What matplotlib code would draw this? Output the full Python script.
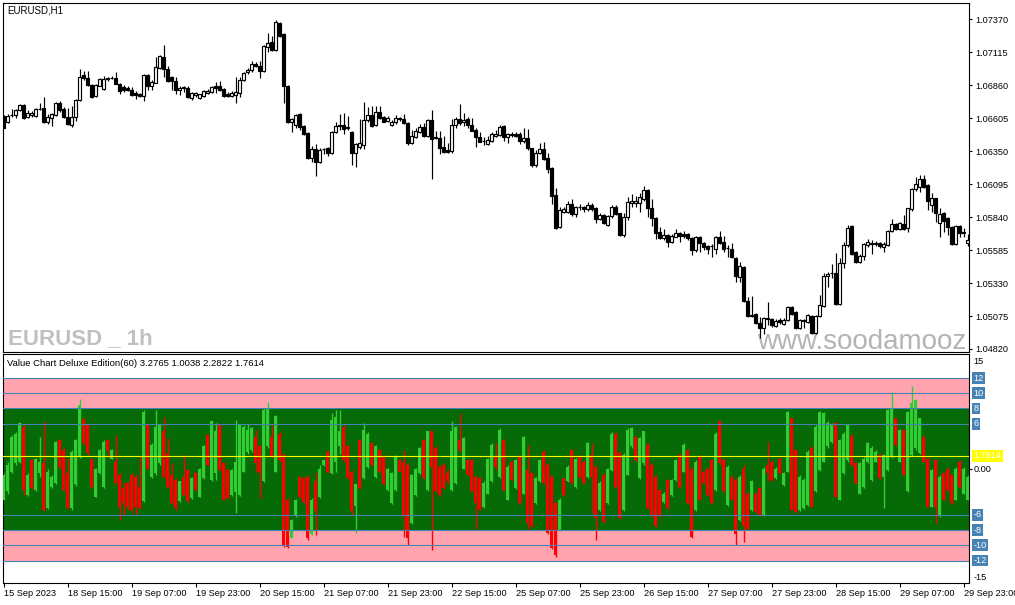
import matplotlib
matplotlib.use("Agg")
import matplotlib.pyplot as plt
from matplotlib.transforms import blended_transform_factory
import numpy as np

plt.rcParams['font.family'] = ['Liberation Sans', 'DejaVu Sans']

W, H = 1015, 605

# ---------------- data: EURUSD H1 candles ----------------
open_ = [
    1.06624, 1.06577, 1.06630, 1.06631, 1.06670, 1.06708, 1.06616, 1.06631, 1.06624, 1.06677,
    1.06685, 1.06577, 1.06608, 1.06631, 1.06724, 1.06677, 1.06616, 1.06553, 1.06616, 1.06747,
    1.06940, 1.06917, 1.06863, 1.06778, 1.06856, 1.06832, 1.06913, 1.06917, 1.06917, 1.06871,
    1.06848, 1.06840, 1.06824, 1.06801, 1.06793, 1.06778, 1.06940, 1.06856, 1.06879, 1.06995,
    1.07080, 1.06987, 1.06925, 1.06894, 1.06824, 1.06840, 1.06840, 1.06762, 1.06786, 1.06762,
    1.06778, 1.06801, 1.06809, 1.06856, 1.06856, 1.06832, 1.06793, 1.06778, 1.06786, 1.06801,
    1.06902, 1.06963, 1.06979, 1.07026, 1.07010, 1.06971, 1.07157, 1.07196, 1.07134, 1.07343,
    1.07258, 1.06856, 1.06577, 1.06553, 1.06639, 1.06546, 1.06491, 1.06298, 1.06367, 1.06267,
    1.06364, 1.06375, 1.06336, 1.06499, 1.06553, 1.06553, 1.06530, 1.06499, 1.06336, 1.06383,
    1.06398, 1.06592, 1.06631, 1.06553, 1.06655, 1.06616, 1.06584, 1.06553, 1.06577, 1.06600,
    1.06600, 1.06569, 1.06414, 1.06460, 1.06499, 1.06538, 1.06468, 1.06592, 1.06453, 1.06453,
    1.06383, 1.06360, 1.06352, 1.06553, 1.06600, 1.06577, 1.06600, 1.06553, 1.06515, 1.06460,
    1.06429, 1.06406, 1.06429, 1.06468, 1.06476, 1.06546, 1.06460, 1.06476, 1.06484, 1.06484,
    1.06429, 1.06453, 1.06375, 1.06244, 1.06336, 1.06367, 1.06298, 1.06221, 1.06012, 1.05764,
    1.05880, 1.05880, 1.05942, 1.05865, 1.05919, 1.05919, 1.05903, 1.05934, 1.05911, 1.05826,
    1.05857, 1.05780, 1.05849, 1.05919, 1.05872, 1.05702, 1.05841, 1.05950, 1.05950, 1.05950,
    1.05981, 1.06050, 1.05911, 1.05834, 1.05725, 1.05679, 1.05702, 1.05648, 1.05687, 1.05718,
    1.05710, 1.05710, 1.05679, 1.05586, 1.05687, 1.05640, 1.05617, 1.05617, 1.05594, 1.05687,
    1.05648, 1.05602, 1.05594, 1.05524, 1.05377, 1.05455, 1.05191, 1.05075, 1.05091, 1.05021,
    1.04982, 1.05060, 1.05052, 1.04998, 1.05044, 1.05013, 1.05044, 1.05145, 1.05106, 1.04982,
    1.05044, 1.05029, 1.05075, 1.04944, 1.05075, 1.05153, 1.05385, 1.05408, 1.05408, 1.05168,
    1.05486, 1.05625, 1.05772, 1.05570, 1.05493, 1.05540, 1.05625, 1.05640, 1.05636, 1.05640,
    1.05609, 1.05625, 1.05733, 1.05787, 1.05748, 1.05787, 1.05756, 1.05903, 1.06058, 1.06074,
    1.06136, 1.06089, 1.05934, 1.05988, 1.05795, 1.05872, 1.05834, 1.05764, 1.05632, 1.05772,
    1.05725, 1.05640]
high = [
    1.06631, 1.06639, 1.06677, 1.06677, 1.06716, 1.06716, 1.06670, 1.06662, 1.06685, 1.06724,
    1.06770, 1.06639, 1.06646, 1.06732, 1.06739, 1.06693, 1.06685, 1.06701, 1.06755, 1.06987,
    1.06971, 1.06971, 1.06871, 1.06871, 1.06917, 1.06933, 1.06925, 1.06933, 1.06963, 1.06879,
    1.06863, 1.06856, 1.06848, 1.06817, 1.06801, 1.06948, 1.06948, 1.06902, 1.07080, 1.07095,
    1.07172, 1.07010, 1.06933, 1.06925, 1.06856, 1.06856, 1.06856, 1.06809, 1.06809, 1.06793,
    1.06824, 1.06832, 1.06856, 1.06886, 1.06894, 1.06840, 1.06809, 1.06817, 1.06925, 1.06925,
    1.06963, 1.06995, 1.07049, 1.07041, 1.07049, 1.07172, 1.07266, 1.07243, 1.07366, 1.07351,
    1.07262, 1.06860, 1.06608, 1.06639, 1.06643, 1.06553, 1.06499, 1.06391, 1.06406, 1.06375,
    1.06375, 1.06383, 1.06507, 1.06577, 1.06639, 1.06646, 1.06624, 1.06507, 1.06414, 1.06600,
    1.06732, 1.06693, 1.06701, 1.06701, 1.06701, 1.06624, 1.06624, 1.06592, 1.06631, 1.06616,
    1.06639, 1.06573, 1.06515, 1.06530, 1.06561, 1.06569, 1.06600, 1.06670, 1.06507, 1.06507,
    1.06468, 1.06414, 1.06600, 1.06616, 1.06716, 1.06646, 1.06616, 1.06608, 1.06530, 1.06499,
    1.06460, 1.06468, 1.06499, 1.06515, 1.06553, 1.06553, 1.06491, 1.06499, 1.06499, 1.06499,
    1.06530, 1.06522, 1.06379, 1.06360, 1.06414, 1.06422, 1.06336, 1.06228, 1.06066, 1.05919,
    1.05919, 1.05965, 1.05981, 1.05927, 1.05942, 1.05927, 1.05958, 1.05950, 1.05915, 1.05872,
    1.05865, 1.05857, 1.05934, 1.05934, 1.05876, 1.05872, 1.05996, 1.06019, 1.06004, 1.06027,
    1.06081, 1.06058, 1.05981, 1.05841, 1.05764, 1.05748, 1.05710, 1.05710, 1.05748, 1.05722,
    1.05733, 1.05718, 1.05687, 1.05695, 1.05691, 1.05644, 1.05625, 1.05632, 1.05695, 1.05733,
    1.05695, 1.05625, 1.05640, 1.05532, 1.05493, 1.05459, 1.05222, 1.05230, 1.05098, 1.05067,
    1.05067, 1.05184, 1.05060, 1.05052, 1.05060, 1.05060, 1.05149, 1.05153, 1.05114, 1.05052,
    1.05052, 1.05091, 1.05083, 1.05083, 1.05238, 1.05408, 1.05416, 1.05478, 1.05563, 1.05524,
    1.05648, 1.05779, 1.05779, 1.05578, 1.05555, 1.05640, 1.05671, 1.05663, 1.05656, 1.05648,
    1.05648, 1.05741, 1.05826, 1.05795, 1.05803, 1.05857, 1.05913, 1.06066, 1.06151, 1.06167,
    1.06167, 1.06097, 1.06027, 1.05992, 1.05911, 1.05880, 1.05841, 1.05772, 1.05779, 1.05779,
    1.05756, 1.05710]
low = [
    1.06530, 1.06569, 1.06616, 1.06608, 1.06662, 1.06600, 1.06608, 1.06616, 1.06616, 1.06670,
    1.06569, 1.06561, 1.06546, 1.06624, 1.06655, 1.06608, 1.06553, 1.06538, 1.06584, 1.06739,
    1.06902, 1.06856, 1.06762, 1.06770, 1.06853, 1.06824, 1.06894, 1.06909, 1.06868, 1.06793,
    1.06809, 1.06817, 1.06778, 1.06755, 1.06770, 1.06739, 1.06824, 1.06824, 1.06875, 1.06987,
    1.06925, 1.06886, 1.06824, 1.06793, 1.06786, 1.06809, 1.06762, 1.06747, 1.06770, 1.06758,
    1.06770, 1.06793, 1.06801, 1.06801, 1.06817, 1.06770, 1.06770, 1.06770, 1.06724, 1.06770,
    1.06894, 1.06948, 1.06963, 1.07003, 1.06917, 1.06963, 1.07118, 1.07126, 1.07126, 1.07235,
    1.06724, 1.06569, 1.06499, 1.06530, 1.06515, 1.06476, 1.06290, 1.06267, 1.06159, 1.06259,
    1.06329, 1.06313, 1.06329, 1.06491, 1.06515, 1.06484, 1.06515, 1.06244, 1.06228, 1.06367,
    1.06367, 1.06577, 1.06538, 1.06546, 1.06600, 1.06577, 1.06577, 1.06546, 1.06561, 1.06584,
    1.06561, 1.06398, 1.06406, 1.06453, 1.06491, 1.06460, 1.06460, 1.06136, 1.06445, 1.06329,
    1.06336, 1.06336, 1.06336, 1.06530, 1.06553, 1.06546, 1.06530, 1.06507, 1.06383, 1.06422,
    1.06398, 1.06398, 1.06422, 1.06460, 1.06468, 1.06429, 1.06414, 1.06460, 1.06460, 1.06406,
    1.06414, 1.06360, 1.06228, 1.06228, 1.06329, 1.06283, 1.06182, 1.05942, 1.05748, 1.05756,
    1.05872, 1.05872, 1.05849, 1.05841, 1.05896, 1.05880, 1.05888, 1.05888, 1.05795, 1.05818,
    1.05787, 1.05772, 1.05834, 1.05857, 1.05695, 1.05687, 1.05818, 1.05919, 1.05919, 1.05880,
    1.05965, 1.05841, 1.05772, 1.05671, 1.05671, 1.05663, 1.05610, 1.05640, 1.05683, 1.05648,
    1.05679, 1.05663, 1.05547, 1.05570, 1.05570, 1.05586, 1.05555, 1.05532, 1.05555, 1.05632,
    1.05570, 1.05532, 1.05524, 1.05338, 1.05338, 1.05184, 1.05067, 1.05067, 1.05013, 1.04905,
    1.04936, 1.05005, 1.04990, 1.04990, 1.05013, 1.05005, 1.05036, 1.05083, 1.04975, 1.04975,
    1.04982, 1.05021, 1.04936, 1.04936, 1.05067, 1.05145, 1.05300, 1.05369, 1.05160, 1.05160,
    1.05447, 1.05609, 1.05547, 1.05485, 1.05489, 1.05509, 1.05609, 1.05555, 1.05617, 1.05602,
    1.05570, 1.05617, 1.05725, 1.05741, 1.05741, 1.05741, 1.05725, 1.05888, 1.06043, 1.06035,
    1.06066, 1.05896, 1.05880, 1.05803, 1.05687, 1.05725, 1.05702, 1.05625, 1.05625, 1.05687,
    1.05687, 1.05617]
close = [
    1.06534, 1.06624, 1.06632, 1.06670, 1.06708, 1.06608, 1.06646, 1.06650, 1.06677, 1.06681,
    1.06577, 1.06616, 1.06639, 1.06724, 1.06670, 1.06616, 1.06561, 1.06616, 1.06747, 1.06925,
    1.06917, 1.06863, 1.06770, 1.06863, 1.06909, 1.06909, 1.06917, 1.06921, 1.06871, 1.06817,
    1.06824, 1.06822, 1.06786, 1.06786, 1.06778, 1.06940, 1.06856, 1.06886, 1.07003, 1.07088,
    1.06987, 1.06894, 1.06894, 1.06824, 1.06840, 1.06844, 1.06770, 1.06801, 1.06801, 1.06793,
    1.06817, 1.06817, 1.06848, 1.06840, 1.06824, 1.06778, 1.06778, 1.06801, 1.06809, 1.06902,
    1.06956, 1.06979, 1.07026, 1.07010, 1.06971, 1.07165, 1.07188, 1.07134, 1.07351, 1.07243,
    1.06856, 1.06577, 1.06600, 1.06631, 1.06538, 1.06484, 1.06298, 1.06367, 1.06267, 1.06360,
    1.06367, 1.06336, 1.06499, 1.06546, 1.06546, 1.06522, 1.06538, 1.06336, 1.06406, 1.06414,
    1.06592, 1.06631, 1.06546, 1.06655, 1.06608, 1.06580, 1.06608, 1.06577, 1.06608, 1.06604,
    1.06569, 1.06414, 1.06468, 1.06507, 1.06538, 1.06468, 1.06592, 1.06445, 1.06460, 1.06375,
    1.06344, 1.06346, 1.06553, 1.06600, 1.06569, 1.06592, 1.06553, 1.06507, 1.06460, 1.06422,
    1.06433, 1.06437, 1.06484, 1.06484, 1.06538, 1.06460, 1.06484, 1.06484, 1.06472, 1.06429,
    1.06453, 1.06375, 1.06244, 1.06336, 1.06367, 1.06290, 1.06213, 1.06004, 1.05756, 1.05896,
    1.05903, 1.05942, 1.05865, 1.05919, 1.05915, 1.05903, 1.05934, 1.05903, 1.05826, 1.05857,
    1.05795, 1.05849, 1.05919, 1.05865, 1.05702, 1.05841, 1.05958, 1.05965, 1.05965, 1.05996,
    1.06050, 1.05911, 1.05834, 1.05718, 1.05679, 1.05702, 1.05648, 1.05695, 1.05718, 1.05695,
    1.05695, 1.05679, 1.05586, 1.05687, 1.05640, 1.05610, 1.05594, 1.05613, 1.05687, 1.05640,
    1.05594, 1.05598, 1.05532, 1.05385, 1.05462, 1.05191, 1.05075, 1.05079, 1.05021, 1.04982,
    1.05060, 1.05052, 1.05005, 1.05036, 1.05029, 1.05044, 1.05145, 1.05091, 1.04982, 1.05044,
    1.05040, 1.05083, 1.04944, 1.05075, 1.05160, 1.05385, 1.05400, 1.05404, 1.05168, 1.05486,
    1.05625, 1.05756, 1.05555, 1.05493, 1.05540, 1.05632, 1.05648, 1.05636, 1.05640, 1.05617,
    1.05632, 1.05733, 1.05787, 1.05748, 1.05795, 1.05748, 1.05909, 1.06058, 1.06097, 1.06136,
    1.06074, 1.05965, 1.05988, 1.05872, 1.05865, 1.05810, 1.05764, 1.05632, 1.05772, 1.05718,
    1.05718, 1.05663]

# ---------------- data: Value Chart bars ----------------
vc_open = [
    -4.0, -2.9, -0.3, 0.8, 1.0, 5.6, -3.4, 1.2, -2.7, -0.5,
    0.8, -5.1, -2.3, -1.8, 3.9, 2.5, -0.5, -5.1, -2.0, 1.7,
    6.6, 5.8, 1.3, -3.6, -0.5, -2.3, 3.9, 1.4, 1.0, -0.7,
    -2.5, -1.8, -0.7, -1.0, -2.3, -4.2, 5.8, -1.0, -0.5, 0.8,
    5.0, 2.0, -0.7, -1.4, -4.2, -1.0, -0.1, -3.8, -0.5, -3.6,
    -1.2, 4.5, -1.4, -0.5, 5.8, 0.8, -0.1, -3.4, -3.0, -3.4,
    -0.3, 2.3, 2.5, 4.3, 3.0, -1.6, 3.0, 4.3, -0.3, 4.7,
    1.9, -4.0, -9.0, -6.2, -1.0, -1.2, -1.0, -8.5, -1.5, -3.6,
    0.6, 2.3, -0.5, 1.0, 3.0, 5.6, 3.0, -0.3, -4.8, 3.9,
    -1.2, 0.35, 3.4, -1.0, 2.5, 1.7, -2.7, -4.5, -2.7, 1.2,
    1.0, 0.6, -7.1, -3.4, -0.5, 3.9, -2.7, 5.0, 2.8, 0.35,
    0.6, -0.5, -2.7, -1.8, 3.9, 0.1, 1.2, 1.2, -1.0, -1.2,
    -5.0, -3.2, -1.6, 1.7, -1.0, 3.9, -4.0, 1.0, -2.5, 1.7,
    -3.2, -0.1, -0.5, -4.5, -1.6, 2.3, 0.6, -1.0, -4.5, -8.0,
    -1.2, -1.6, 2.5, -2.3, 1.7, 1.0, -1.0, 1.9, 0.35, -5.4,
    -0.7, -4.5, -0.1, 4.7, 2.1, -5.4, -0.7, 3.0, 4.3, -1.2,
    0.8, 3.2, 0.6, -1.0, -2.7, -4.3, -1.4, -3.4, -1.4, 1.9,
    -0.3, 2.5, 0.1, -5.4, 1.7, -0.3, 0.1, 1.2, -2.7, 6.3,
    1.2, -4.7, -1.0, -1.4, -6.7, 0.1, -3.2, -5.4, -3.2, -2.5,
    -6.0, 0.6, 1.0, -1.2, 1.4, -2.1, -0.3, 6.7, 2.5, -5.4,
    -5.1, -4.7, 2.8, -2.9, -0.1, 1.0, 3.0, 3.6, 6.1, -4.0,
    -0.5, 1.2, 4.4, 0.8, -3.2, -2.3, 1.0, -1.4, 1.0, 1.9,
    -1.0, -0.1, 1.7, 6.7, 1.0, 5.2, -2.9, 1.9, 2.8, 2.1,
    4.3, 1.4, -4.9, 1.2, -6.2, -0.5, 0.1, -0.7, -4.0, 1.0,
    -3.2, -4.0]
vc_high = [
    -0.5, 1.0, 4.5, 4.9, 6.2, 6.0, -0.5, 1.4, 1.5, 4.3,
    6.3, 0.0, -0.8, 3.7, 4.0, 2.8, 1.5, 2.5, 4.0, 9.3,
    6.7, 6.0, 1.4, 0.2, 2.7, 3.8, 4.0, 2.7, 4.5, -0.5,
    -1.7, -1.5, -0.5, -0.8, 1.7, 7.8, 6.0, 3.4, 7.8, 6.0,
    6.9, 4.1, 0.8, -1.2, -1.5, 1.9, 0.1, -1.0, -0.4, 0.2,
    3.2, 4.6, 6.4, 6.1, 6.0, 1.0, 0.0, 0.0, 6.5, 6.0,
    5.8, 6.0, 5.6, 5.2, 3.2, 8.0, 8.9, 5.8, 7.1, 4.9,
    2.1, -3.8, -6.5, -3.9, -0.9, -1.0, -0.8, -3.8, -0.3, 0.5,
    1.4, 2.5, 7.4, 7.8, 7.8, 5.8, 3.2, -0.1, -1.9, 4.0,
    6.1, 4.9, 3.6, 3.2, 2.7, 1.9, 0.2, -0.3, 1.9, 1.4,
    2.5, 0.8, -0.6, 0.2, 2.9, 4.0, 5.1, 5.1, 3.0, 0.5,
    0.8, 0.0, 6.3, 5.7, 7.4, 4.2, 1.4, 1.4, -0.8, -1.0,
    -1.6, 1.5, 3.4, 3.4, 5.4, 4.0, 0.5, 1.2, 1.4, 1.9,
    4.4, 3.2, -0.3, -1.0, 1.4, 2.5, 0.8, -0.8, -4.3, -3.8,
    -1.1, 0.5, 2.7, 1.5, 1.9, 1.2, 3.6, 3.4, 0.5, -1.6,
    -0.5, 0.2, 4.9, 4.9, 2.3, 2.1, 5.4, 5.6, 4.4, 4.2,
    5.1, 3.4, 0.8, -0.8, -2.6, -3.0, -1.3, -1.3, 1.4, 2.1,
    3.4, 2.7, 0.3, 1.2, 1.9, -0.1, 0.3, 1.4, 4.9, 6.4,
    1.4, 0.5, -0.8, -1.2, -0.8, 0.6, -3.0, -1.4, -3.0, -2.3,
    0.3, 3.6, 1.2, 0.3, 1.6, -0.3, 7.7, 6.8, 2.7, -0.8,
    -1.2, 2.5, 3.0, 5.8, 7.7, 7.5, 6.3, 6.1, 6.2, 4.0,
    4.9, 6.0, 4.6, 1.0, 1.0, 1.6, 3.6, 3.0, 2.5, 2.1,
    2.0, 7.9, 10.2, 6.8, 5.3, 5.3, 7.7, 10.9, 9.2, 6.8,
    4.4, 1.6, 0.1, 1.4, -0.8, -0.4, 0.3, -0.6, 0.3, 1.2,
    0.3, -0.8]
vc_low = [
    -4.1, -3.2, -0.5, 0.5, 0.8, -3.4, -3.5, -2.6, -2.9, -1.0,
    -5.5, -5.2, -2.5, -2.0, 0.0, -2.9, -5.2, -5.3, -2.2, 1.5,
    3.2, 1.9, -2.4, -3.7, -0.6, -2.4, 1.5, 1.3, -2.0, -6.7,
    -6.0, -5.4, -5.6, -6.0, -5.2, -4.3, 0.0, -1.1, -0.7, 0.5,
    -1.2, -2.5, -4.6, -5.3, -4.3, -3.5, -4.3, -3.9, -2.8, -3.7,
    -1.3, 0.4, -1.5, -1.4, -0.2, -4.1, -3.9, -3.5, -5.8, -3.5,
    -0.4, 2.0, 2.3, -0.5, -3.8, -1.7, 2.8, 1.5, -0.4, 1.0,
    -10.2, -10.4, -9.1, -6.3, -3.8, -4.4, -9.3, -8.7, -8.6, -3.8,
    0.4, -0.5, -0.6, -0.3, 2.0, 1.0, -1.3, -6.0, -8.4, -2.6,
    -1.3, 0.2, 0.4, -1.1, -0.5, -2.1, -2.8, -4.6, -2.8, -0.4,
    -8.9, -9.9, -7.2, -3.5, -0.6, -1.3, -2.8, -10.6, -3.0, -3.5,
    -2.6, -2.0, -2.8, -2.0, 2.3, 0.0, -0.8, -3.0, -7.8, -5.4,
    -5.1, -3.3, -1.7, -0.1, -1.1, -2.8, -4.1, -1.5, -2.6, -4.6,
    -3.3, -8.0, -7.6, -4.6, -1.7, -1.9, -8.5, -10.5, -11.5, -8.1,
    -3.5, -1.7, -1.9, -2.4, -1.1, -1.9, -1.1, -5.8, -9.3, -5.5,
    -7.0, -4.6, -0.2, -2.4, -6.5, -5.5, -0.8, 2.8, 1.0, -1.3,
    0.6, -5.2, -6.3, -7.6, -6.3, -4.4, -5.2, -3.5, -1.5, -2.4,
    -0.4, -4.6, -9.0, -5.5, -4.1, -1.9, -3.5, -4.6, -2.8, 0.6,
    -3.0, -4.8, -4.1, -10.0, -6.8, -9.5, -7.9, -5.5, -5.7, -6.1,
    -6.1, -1.6, -1.5, -1.3, -0.6, -2.2, -0.4, -5.4, -5.7, -5.5,
    -5.2, -4.8, -5.0, -3.0, -0.2, 0.9, 2.8, 3.5, -3.7, -4.1,
    -0.6, 1.0, 0.4, -1.9, -3.3, -2.4, 0.8, -1.5, 0.9, -1.3,
    -5.1, -0.2, 1.5, 3.0, 0.9, -0.8, -3.0, 1.8, 2.6, 2.0,
    0.9, -5.0, -5.0, -7.1, -6.3, -4.1, -2.8, -4.6, -4.1, -2.4,
    -3.3, -4.1]
vc_close = [
    -0.7, 0.6, 4.3, 4.7, 6.1, -2.7, -0.7, -2.5, 1.4, 1.0,
    -5.3, -0.3, -1.0, 3.6, 0.35, -2.7, -5.1, 2.3, 3.9, 8.5,
    3.4, 2.1, -2.3, 0.1, 2.5, 3.6, 2.5, 2.5, -1.8, -5.0,
    -4.5, -4.9, -5.4, -5.0, -5.1, 7.6, 0.1, 3.2, 5.5, 5.8,
    -1.0, -2.3, -4.5, -5.1, -1.6, -3.4, -4.2, -1.2, -2.7, 0.1,
    3.0, 0.6, 6.3, 5.0, -0.1, -4.0, -3.8, -0.1, 1.0, 5.8,
    5.6, 5.2, 5.4, 0.8, -0.3, 7.8, 7.9, 1.7, 7.0, 1.2,
    -10.0, -10.2, -6.7, -4.0, -3.6, -4.3, -9.0, -4.0, -5.5, 0.1,
    1.2, -0.3, 6.5, 6.9, 5.0, 1.2, -1.2, -5.5, -2.0, -2.5,
    5.2, 4.7, 0.6, 3.0, -0.3, -2.0, 0.1, -0.5, 1.7, -0.3,
    -6.0, -9.0, -0.7, 0.1, 2.8, -1.2, 5.0, 0.3, -2.9, -3.4,
    -2.5, -1.5, 5.0, 5.6, 2.5, 4.1, -0.7, -2.9, -4.5, -5.3,
    -1.8, 1.4, 3.2, 0.35, 5.2, -2.7, 0.35, -1.4, 1.2, -4.5,
    4.3, -7.1, -7.5, -1.2, 1.2, -1.8, -8.4, -10.4, -11.3, -4.0,
    -3.4, 0.35, -1.8, 1.4, -1.0, -1.8, 3.4, -1.0, -6.4, -1.8,
    -6.9, 0.1, 4.7, -2.3, -6.4, 1.9, 5.2, 5.4, 1.2, 4.1,
    5.0, -5.1, -6.2, -7.5, -6.2, -3.2, -5.1, -1.4, 1.2, -2.3,
    3.2, -4.5, -8.9, 1.0, -4.0, -1.8, -3.4, -4.5, 4.7, 0.8,
    -2.9, 0.35, -4.0, -8.5, -1.0, -7.5, -7.8, -1.6, -5.6, -6.0,
    0.1, -0.5, -1.4, 0.1, -0.5, -0.5, 7.6, -5.3, -5.6, -1.0,
    -1.4, 2.3, -4.9, 5.6, 7.6, 7.4, 6.1, 5.8, -3.6, 3.9,
    4.7, 5.8, 0.6, -1.8, 0.8, 1.4, 3.4, 2.8, 2.3, -1.2,
    1.9, 7.8, 8.0, 3.2, 5.2, -0.7, 7.6, 8.7, 9.1, 6.7,
    1.0, -4.9, -0.1, -5.0, -1.0, -4.0, -2.7, -4.5, 0.1, -2.3,
    0.1, -1.0]

price_ticks = [1.04820, 1.05075, 1.05330, 1.05585, 1.05840, 1.06095,
               1.06350, 1.06605, 1.06860, 1.07115, 1.07370]
vc_levels = [12, 10, 8, 6, -6, -8, -10, -12]
vc_last = 1.7614
time_labels = ["15 Sep 2023", "18 Sep 15:00", "19 Sep 07:00", "19 Sep 23:00",
               "20 Sep 15:00", "21 Sep 07:00", "21 Sep 23:00", "22 Sep 15:00",
               "25 Sep 07:00", "25 Sep 23:00", "26 Sep 15:00", "27 Sep 07:00",
               "27 Sep 23:00", "28 Sep 15:00", "29 Sep 07:00", "29 Sep 23:00"]
bars_per_label = 16
symbol_title = "EURUSD,H1"
vc_title = "Value Chart Deluxe Edition(60) 3.2765 1.0038 2.2822 1.7614"

# ---------------- figure ----------------
fig = plt.figure(figsize=(W / 100, H / 100), dpi=100)
fig.patch.set_facecolor('white')

def px_axes(x0, y0, x1, y1):
    return fig.add_axes([x0 / W, 1 - y1 / H, (x1 - x0) / W, (y1 - y0) / H])

ax1 = px_axes(2.5, 3, 969, 352)
ax2 = px_axes(2.5, 354, 969, 583)

n = len(close)
x = np.arange(n)
for ax in (ax1, ax2):
    ax.set_xlim(-0.25, 241.375)
    for s in ax.spines.values():
        s.set_color('black')
        s.set_linewidth(0.8)

# ---- price candles ----
o = np.array(open_); c = np.array(close); h = np.array(high); l = np.array(low)
up = c >= o
ax1.vlines(x, l, h, color='black', lw=0.85, zorder=2)
body_b = np.minimum(o, c)
body_h = np.maximum(np.abs(c - o), 0.000012)
ax1.bar(x, body_h, bottom=body_b, width=0.52,
        color=np.where(up, 'white', 'black'), edgecolor='black', linewidth=0.85, zorder=3)
ax1.set_ylim(1.047964, 1.074977)
ax1.set_xticks([])
ax1.yaxis.tick_right()
ax1.set_yticks(price_ticks)
ax1.set_yticklabels([f"{t:.5f}" for t in price_ticks])
ax1.tick_params(axis='y', direction='out', length=2.5, width=0.8, pad=2.2,
                labelsize=6.6, colors='black')

fig.text(7 / W, 1 - 10.7 / H, symbol_title, fontsize=7, va='center', ha='left')
ax1.text((8 - 2.5) / 966.5, (352 - 344) / 349, "EURUSD _ 1h", transform=ax1.transAxes,
         fontsize=16, fontweight='bold', color='#c0c0c0', va='baseline', ha='left',
         family=['Liberation Sans', 'DejaVu Sans'], zorder=1)
ax1.text((966 - 2.5) / 966.5, (352 - 349) / 349, "www.soodamooz", transform=ax1.transAxes,
         fontsize=20, color='#b4b4b4', va='baseline', ha='right', zorder=1)

# ---- value chart ----
vo = np.array(vc_open); vh = np.array(vc_high); vl = np.array(vc_low); vcl = np.array(vc_close)
vup = vcl >= vo
vcol = np.where(vup, '#32cd32', '#ff0000')
pink = '#ffa4af'
dgreen = '#066a06'
ax2.axhspan(8, 12, color=pink, lw=0, zorder=0)
ax2.axhspan(-12, -8, color=pink, lw=0, zorder=0)
ax2.axhspan(-8, 8, color=dgreen, lw=0, zorder=0)
ax2.vlines(x, vl, vh, colors=vcol, lw=1.0, zorder=2)
ax2.bar(x, np.maximum(np.abs(vcl - vo), 0.12), bottom=np.minimum(vo, vcl), width=0.92,
        color=vcol, lw=0, zorder=3)
for lv in vc_levels:
    ax2.axhline(lv, color='#4682b4', lw=0.8, zorder=4)
ax2.axhline(vc_last, color='#ffff00', lw=0.8, zorder=4)
ax2.set_ylim(-14.96, 15.17)

ax2.yaxis.tick_right()
ax2.set_yticks([0])
ax2.set_yticklabels([""])
ax2.tick_params(axis='y', direction='out', length=2.5, width=0.8)

tr = blended_transform_factory(ax2.transAxes, ax2.transData)
xl = 1 + 4.5 / 966.5
for lv in vc_levels:
    ax2.text(xl, lv, str(lv), transform=tr, ha='left', va='center', fontsize=6.6,
             color='white', clip_on=False,
             bbox=dict(boxstyle='square,pad=0.15', fc='#4682b4', ec='none'))
ax2.text(xl, vc_last, f"{vc_last:.4f}", transform=tr, ha='left', va='center', fontsize=6.6,
         color='white', clip_on=False,
         bbox=dict(boxstyle='square,pad=0.15', fc='#ffff00', ec='none'))
ax2.text(xl, 14.2, "15", transform=tr, ha='left', va='center', fontsize=6.6, clip_on=False)
ax2.text(xl, 0, "0.00", transform=tr, ha='left', va='center', fontsize=6.6, clip_on=False)
ax2.text(xl, -14.2, "-15", transform=tr, ha='left', va='center', fontsize=6.6, clip_on=False)

tick_pos = [k * bars_per_label for k in range(len(time_labels))]
ax2.set_xticks(tick_pos)
ax2.set_xticklabels(time_labels, fontsize=6.6, ha='left')
ax2.tick_params(axis='x', direction='out', length=3.2, width=0.8, pad=1.2)

fig.text(7.3 / W, 1 - 363.7 / H, vc_title, fontsize=6.8, va='center', ha='left')

fig.savefig('out.png', dpi=100)
